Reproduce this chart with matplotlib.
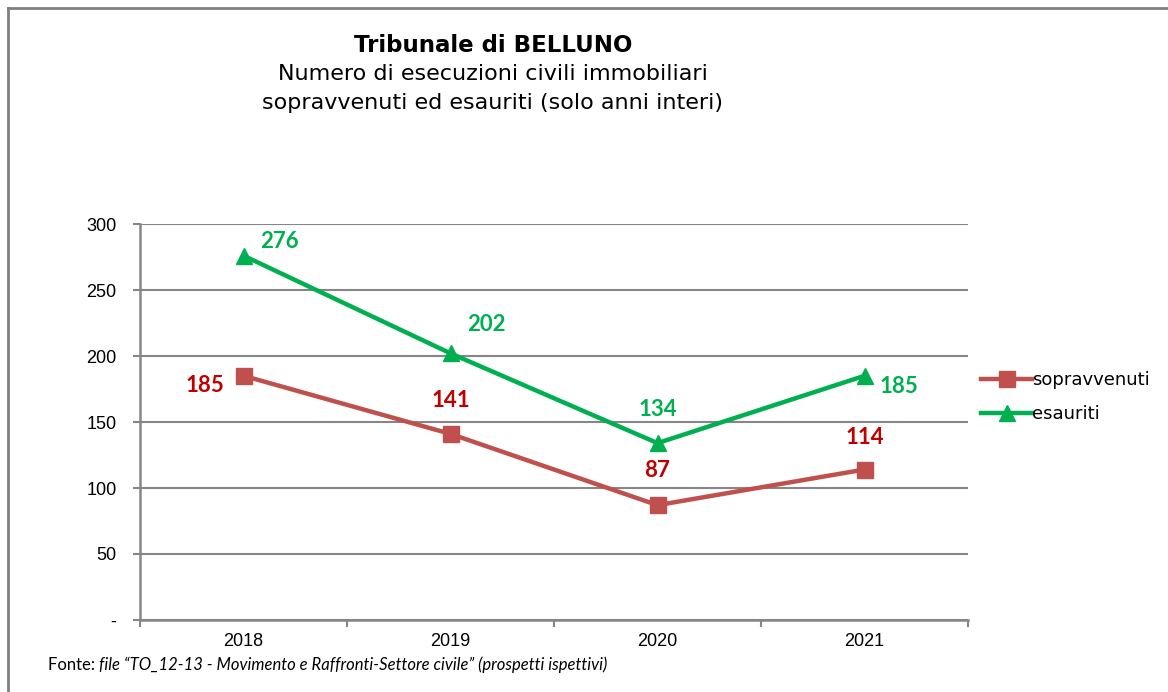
import matplotlib.pyplot as plt
from matplotlib.lines import Line2D

anni = ['2018', '2019', '2020', '2021']
sopravvenuti = [185, 141, 87, 114]
esauriti = [276, 202, 134, 185]
y_ticks = [0, 50, 100, 150, 200, 250, 300]
y_labels = ['-', '50', '100', '150', '200', '250', '300']

rosso = '#C0504D'
rosso_txt = '#C00000'
verde = '#00B050'
grigio = '#868686'

fig = plt.figure(figsize=(11.68, 6.92), dpi=100)
ax = fig.add_axes([140/1168, 1-620/692, (968-140)/1168, (620-224)/692])

x = list(range(len(anni)))
ax.plot(x, sopravvenuti, color=rosso, lw=3.2, marker='s', ms=11, label='sopravvenuti', zorder=3)
ax.plot(x, esauriti, color=verde, lw=3.2, marker='^', ms=12, label='esauriti', zorder=3)

ax.set_xlim(-0.5, 3.5)
ax.set_ylim(0, 300)
ax.set_yticks(y_ticks)
ax.set_yticklabels(y_labels, fontfamily='Liberation Sans', fontsize=13)
ax.set_xticks([i - 0.5 for i in range(len(anni) + 1)])
ax.set_xticklabels([])
ax.set_xticks(x, minor=True)
ax.set_xticklabels(anni, minor=True, fontfamily='Liberation Sans', fontsize=13)
ax.tick_params(axis='x', which='minor', length=0, pad=9)
ax.tick_params(axis='x', which='major', length=5, color=grigio, width=1.5)
ax.tick_params(axis='y', length=5, color=grigio, width=1.5, pad=12)
ax.grid(axis='y', color=grigio, lw=1.5)
ax.set_axisbelow(True)
for s in ['top', 'right']:
    ax.spines[s].set_visible(False)
for s in ['left', 'bottom']:
    ax.spines[s].set_color(grigio)
    ax.spines[s].set_linewidth(1.8)

# etichette dati (offset in punti)
off_verde = [(26, 10), (26, 21), (0, 24), (25, -8)]
off_rosso = [(-28, -7), (0, 24), (0, 25), (0, 23)]
for i in range(len(anni)):
    ax.annotate(str(esauriti[i]), (x[i], esauriti[i]), xytext=off_verde[i], textcoords='offset points',
                ha='center', va='center', color=verde, fontsize=16, fontweight='bold', fontfamily='Lato')
    ax.annotate(str(sopravvenuti[i]), (x[i], sopravvenuti[i]), xytext=off_rosso[i], textcoords='offset points',
                ha='center', va='center', color=rosso_txt, fontsize=16, fontweight='bold', fontfamily='Lato')

leg = fig.legend(loc='upper left', bbox_to_anchor=(965/1168, 1-355/692), frameon=False,
                 handlelength=2.8, handletextpad=0.0, labelspacing=0.9,
                 prop={'family': 'DejaVu Sans', 'size': 13})

fig.text(493/1168, 1-45/692, 'Tribunale di BELLUNO', ha='center', va='center',
         fontsize=16.5, fontweight='bold')
fig.text(493/1168, 1-74/692, 'Numero di esecuzioni civili immobiliari', ha='center', va='center', fontsize=16)
fig.text(493/1168, 1-103/692, 'sopravvenuti ed esauriti (solo anni interi)', ha='center', va='center', fontsize=16)

t = fig.text(48/1168, 1-665/692, 'Fonte: ', ha='left', va='center', fontsize=12, fontfamily='Lato')
ax.annotate('file \u201cTO_12-13 - Movimento e Raffronti-Settore civile\u201d (prospetti ispettivi)',
            xy=(1, 0.5), xycoords=t, ha='left', va='center', fontsize=12, fontfamily='Lato',
            style='italic', annotation_clip=False)

# cornice
fig.add_artist(Line2D([8/1168, 1], [1-8/692, 1-8/692], transform=fig.transFigure, color='#808080', lw=2))
fig.add_artist(Line2D([8/1168, 8/1168], [0, 1-8/692], transform=fig.transFigure, color='#808080', lw=2))

fig.savefig('out.png', dpi=100)
